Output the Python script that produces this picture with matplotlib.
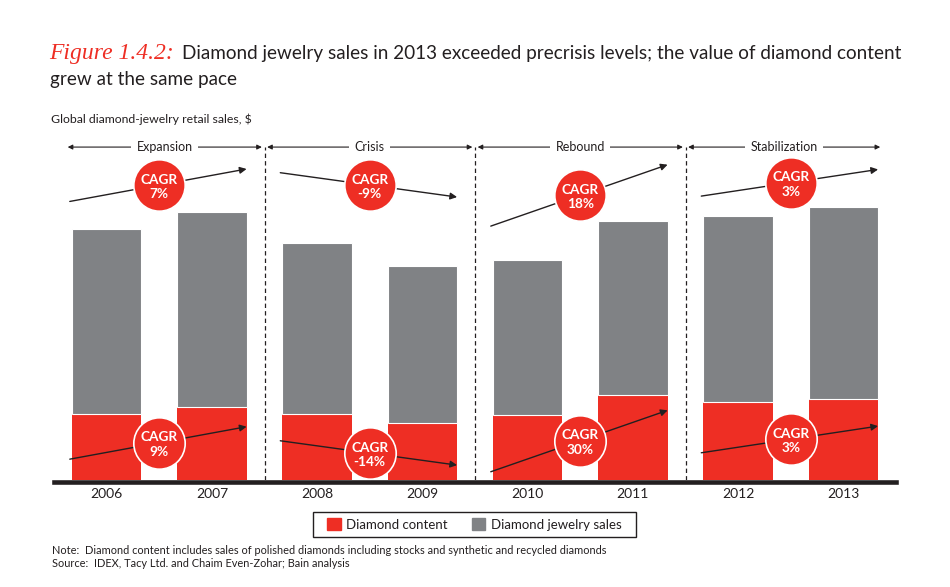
import matplotlib
matplotlib.use("Agg")
import matplotlib.pyplot as plt
from matplotlib.patches import Patch, Rectangle

plt.rcParams['font.family'] = ['Lato', 'DejaVu Sans']

# data (billions of $, estimated)
years = ['2006', '2007', '2008', '2009', '2010', '2011', '2012', '2013']
total_sales = [72.8, 77.7, 68.7, 62.0, 63.8, 75.1, 76.5, 79.1]
diamond_content = [19.1, 21.2, 19.1, 16.5, 18.8, 24.6, 22.6, 23.5]
periods = ['Expansion', 'Crisis', 'Rebound', 'Stabilization']
cagr_sales = ['7%', '-9%', '18%', '3%']
cagr_content = ['9%', '-14%', '30%', '3%']

# layout of the CAGR bubbles (y in data units) and arrow slopes
bubble_top_y = [85.5, 85.5, 82.6, 86.2]
bubble_bottom_y = [10.8, 7.8, 11.4, 11.8]
arrow_slopes = [5.6, -4.2, 10.6, 4.6]

RED = '#ee2e24'
GREY = '#808285'
DARK = '#231f20'

fig = plt.figure(figsize=(9.5, 5.87), dpi=100)
W, H = 950, 587


def fy(px):
    # figure fraction from a pixel row counted from the top
    return 1 - px / H


ax = fig.add_axes([54 / W, fy(480), 842 / W, 345 / H])
ax.set_xlim(-0.5, 7.5)
ax.set_ylim(0, 100)

x = list(range(len(years)))
grey_part = [t - d for t, d in zip(total_sales, diamond_content)]
ax.bar(x, diamond_content, width=0.66, color=RED, zorder=2)
ax.bar(x, grey_part, width=0.66, bottom=diamond_content, color=GREY,
       edgecolor='white', linewidth=0.8, zorder=2)

# thick baseline just under the bars
ax.axhline(-0.68, color=DARK, lw=3.3, clip_on=False, zorder=3)

for s in ax.spines.values():
    s.set_visible(False)
ax.set_yticks([])
ax.set_xticks(x)
ax.set_xticklabels(years, fontsize=10, color=DARK)
ax.tick_params(axis='x', length=0, pad=6)

# period separators and header arrows
n_per = 2
bounds = [i * n_per - 0.5 for i in range(1, len(periods))]
ax.vlines(bounds, 0, 96.5, colors=DARK, linestyles=(0, (3.5, 2.5)), lw=0.9,
          zorder=1)
spans = [(-0.37, 1.475), (1.525, 3.475), (3.525, 5.475), (5.525, 7.35)]
for (a, b), name in zip(spans, periods):
    ax.annotate('', xy=(b, 96.5), xytext=(a, 96.5),
                arrowprops=dict(arrowstyle='<|-|>', color=DARK, lw=0.8,
                                mutation_scale=7, shrinkA=0, shrinkB=0),
                annotation_clip=False)
    ax.text((a + b) / 2, 96.5, name, ha='center', va='center', fontsize=9,
            color=DARK, zorder=4,
            bbox=dict(facecolor='white', edgecolor='none', pad=4))


def bubble(cx, cy, slope, label):
    x0, x1 = cx - 0.85, cx + 0.83
    ax.annotate('', xy=(x1, cy + slope * 0.83), xytext=(x0, cy - slope * 0.85),
                arrowprops=dict(arrowstyle='-|>', color=DARK, lw=1,
                                mutation_scale=10, shrinkA=0, shrinkB=0),
                zorder=3)
    ax.plot(cx, cy, 'o', ms=37, mfc=RED, mec='white', mew=1.2, zorder=5)
    ax.text(cx, cy - 0.5, 'CAGR\n' + label, ha='center', va='center',
            fontsize=9.8, fontweight='bold', color='white', linespacing=1.25,
            zorder=6)


for i in range(len(periods)):
    cx = i * n_per + 0.5
    bubble(cx, bubble_top_y[i], arrow_slopes[i], cagr_sales[i])
    bubble(cx, bubble_bottom_y[i], arrow_slopes[i], cagr_content[i])

# legend with a square black frame
handles = [Patch(color=RED, label='Diamond content'),
           Patch(color=GREY, label='Diamond jewelry sales')]
fig.legend(handles=handles, loc='center', bbox_to_anchor=(474.5 / W, fy(524.5)),
           ncol=2, frameon=False, fontsize=9.5, handlelength=1.0,
           handleheight=1.0, handletextpad=0.45, columnspacing=1.8,
           labelcolor=DARK)
fig.patches.append(Rectangle((313 / W, fy(537)), 323 / W, 25 / H,
                             transform=fig.transFigure, fill=False,
                             edgecolor=DARK, lw=1))

# title
t1 = fig.text(49 / W, fy(59), 'Figure 1.4.2:', color=RED, fontsize=17,
              family='Liberation Serif', style='italic', va='baseline')
fig.canvas.draw()
bb = t1.get_window_extent()
fig.text(bb.x1 / W + 8 / W, fy(59),
         'Diamond jewelry sales in 2013 exceeded precrisis levels; the value of diamond content',
         color=DARK, fontsize=13.6, va='baseline')
fig.text(50 / W, fy(85), 'grew at the same pace', color=DARK, fontsize=13.6,
         va='baseline')
fig.text(51 / W, fy(123), 'Global diamond-jewelry retail sales, $', color=DARK,
         fontsize=8.8, va='baseline')

# notes
fig.text(52 / W, fy(554),
         'Note:  Diamond content includes sales of polished diamonds including stocks and synthetic and recycled diamonds',
         color=DARK, fontsize=7.9, va='baseline')
fig.text(52 / W, fy(567), 'Source:  IDEX, Tacy Ltd. and Chaim Even-Zohar; Bain analysis',
         color=DARK, fontsize=7.9, va='baseline')

fig.savefig('out.png', dpi=100)
